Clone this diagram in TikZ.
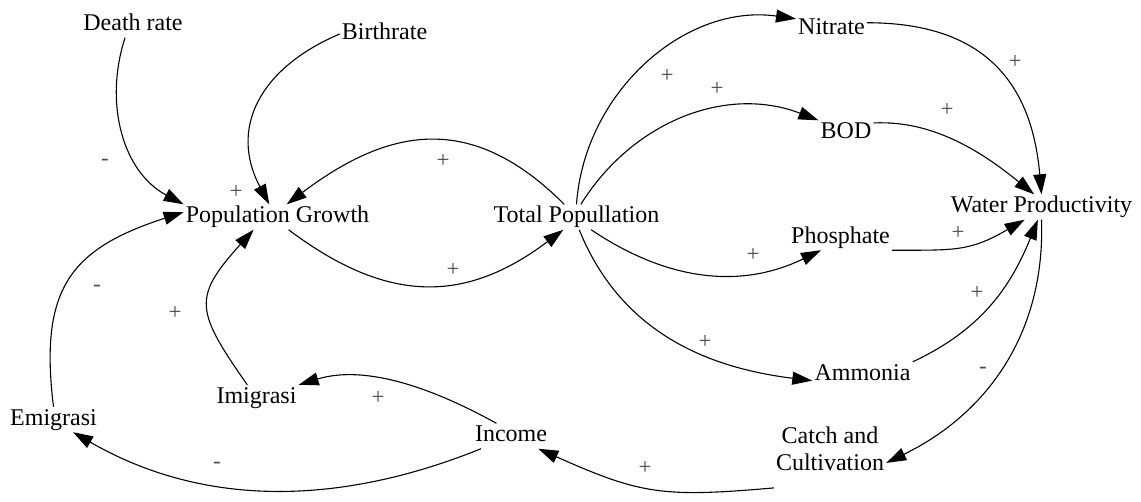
\documentclass[tikz,border=0pt]{standalone}
\usepackage{fontspec}
\setmainfont{Liberation Serif}
\usetikzlibrary{arrows.meta}

\begin{document}
\begin{tikzpicture}[x=1pt,y=1pt,
    var/.style={inner sep=2pt, text height=16pt, text depth=5pt, font=\fontsize{24}{27}\selectfont},
    link/.style={line width=1.1pt, -{Triangle[length=20pt,width=13pt]}},
    sign/.style={inner sep=0pt, text=black!70, font=\fontsize{23}{25}\selectfont}]
    \useasboundingbox (0,0) rectangle (1141,-501);

    \node[var] (dr) at (133,-25) {Death rate};
    \node[var] (br) at (384.5,-34) {Birthrate};
    \node[var] (pg) at (277.5,-217) {Population Growth};
    \node[var] (tp) at (576.5,-217) {Total Popullation};
    \node[var] (ni) at (831.5,-29) {Nitrate};
    \node[var] (bod) at (846,-133) {BOD};
    \node[var] (wp) at (1041.5,-207) {Water Productivity};
    \node[var] (ph) at (840.5,-237.5) {Phosphate};
    \node[var] (am) at (862.5,-374.5) {Ammonia};
    \node[var, text depth=32pt, align=center] (cc) at (830,-478) {Catch and\\Cultivation};
    \node[var] (inc) at (511,-436) {Income};
    \node[var] (im) at (256.5,-397.5) {Imigrasi};
    \node[var] (em) at (53.5,-419.5) {Emigrasi};

    \draw[link] (dr.238) to[out=252,in=152] (pg.north west);
    \draw[link] (br.west) to[out=203,in=118,looseness=1.2] (pg.123);
    \draw[link] (tp.134) to[out=135,in=37,looseness=1.2] (pg.54);
    \draw[link] (pg.311) to[out=-37,in=217,looseness=1.15] (tp.224);
    \draw[link] (im.126) to[out=125,in=228,looseness=1.5] (pg.208);
    \draw[link] (em.north) to[out=97,in=198,looseness=1.3] (pg.177);
    \draw[link] (inc.139) to[out=151,in=17,looseness=0.9] (im.north east);
    \draw[link] (inc.203) to[out=202,in=-30,looseness=0.95] (em.327);
    \draw[link] (cc.190) to[out=185,in=-24,looseness=1.2] (inc.335);
    \draw[link] (wp.south) to[out=272,in=26] (cc.15);
    \draw[link] (tp.north) to[out=86,in=172] (ni.164);
    \draw[link] (tp.71) to[out=58,in=159] (bod.north west);
    \draw[link] (tp.319) to[out=-34,in=206] (ph.213);
    \draw[link] (tp.282) to[out=-68,in=173] (am.187);
    \draw[link] (ni.10) to[out=0,in=95,looseness=1.2] (wp.north);
    \draw[link] (bod.20) to[out=3,in=141,looseness=0.9] (wp.120);
    \draw[link] (ph.south east) to[out=0,in=210,looseness=1.2] (wp.217);
    \draw[link] (am.north east) to[out=25,in=248] (wp.254);

    \node[sign] (s1) at (105,-162) {-};
    \node[sign] (s2) at (236,-192) {+};
    \node[sign] (s3) at (443,-161) {+};
    \node[sign] (s4) at (453,-270) {+};
    \node[sign] (s5) at (97,-288) {-};
    \node[sign] (s6) at (175,-313) {+};
    \node[sign] (s7) at (378,-398) {+};
    \node[sign] (s8) at (217,-465) {-};
    \node[sign] (s9) at (645,-468) {+};
    \node[sign] (s10) at (983,-370) {-};
    \node[sign] (s11) at (667,-76) {+};
    \node[sign] (s12) at (717,-89) {+};
    \node[sign] (s13) at (753,-255) {+};
    \node[sign] (s14) at (705,-342) {+};
    \node[sign] (s15) at (1015,-62) {+};
    \node[sign] (s16) at (947,-110) {+};
    \node[sign] (s17) at (958,-233) {+};
    \node[sign] (s18) at (977,-293) {+};
\end{tikzpicture}
\end{document}
